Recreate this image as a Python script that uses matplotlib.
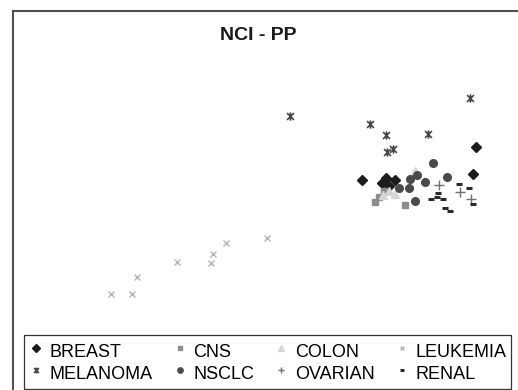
import matplotlib
matplotlib.use('Agg')
import matplotlib.pyplot as plt
from matplotlib.path import Path
from matplotlib.lines import Line2D

plt.rcParams['font.family'] = ['Liberation Sans', 'DejaVu Sans']

# scores (arbitrary units)
breast_x = [36.2, 47.6, 47.3, 38.2, 38.6, 39.5, 38.9]
breast_y = [21.0, 24.3, 21.6, 20.7, 21.2, 21.0, 20.4]
cns_x = [37.5, 37.9, 38.4, 40.5]
cns_y = [18.8, 19.3, 19.9, 18.5]
colon_x = [41.5, 38.3, 38.9, 39.5]
colon_y = [21.9, 19.5, 19.9, 19.6]
leukemia_x = [11.1, 13.2, 13.7, 17.7, 21.1, 21.3, 22.6, 26.7]
leukemia_y = [9.6, 9.6, 11.3, 12.8, 12.7, 13.6, 14.7, 15.2]
melanoma_x = [29.0, 47.0, 37.0, 38.6, 42.8, 38.7, 39.3]
melanoma_y = [27.4, 29.2, 26.6, 25.5, 25.6, 23.8, 24.1]
nsclc_x = [43.3, 44.7, 41.0, 41.7, 42.5, 39.9, 40.9, 41.5]
nsclc_y = [22.7, 21.3, 21.1, 21.5, 20.8, 20.2, 20.2, 18.9]
ovarian_x = [43.9, 46.0, 47.1]
ovarian_y = [20.5, 19.8, 19.1]
renal_x = [45.9, 46.9, 43.8, 43.1, 43.7, 44.3, 44.5, 45.0, 47.3]
renal_y = [20.6, 20.2, 19.7, 19.1, 19.3, 19.1, 18.2, 17.9, 18.6]

# x with a vertical bar through it
star = Path([(-1, -1), (1, 1), (-1, 1), (1, -1), (0, -1.2), (0, 1.2)],
            [Path.MOVETO, Path.LINETO] * 3)

groups = [
    ('BREAST', breast_x, breast_y, dict(marker='D', ms=5.5, color='#1c1c1c', ls='none')),
    ('CNS', cns_x, cns_y, dict(marker='s', ms=5, color='#8c8c8c', ls='none')),
    ('COLON', colon_x, colon_y, dict(marker='^', ms=6, color='#d6d6d6', ls='none')),
    ('LEUKEMIA', leukemia_x, leukemia_y, dict(marker='x', ms=5, mew=1, color='#b5b5b5', ls='none')),
    ('MELANOMA', melanoma_x, melanoma_y, dict(marker=star, ms=6, mew=1.2, color='#484848', ls='none')),
    ('NSCLC', nsclc_x, nsclc_y, dict(marker='o', ms=5.5, color='#4a4a4a', ls='none')),
    ('OVARIAN', ovarian_x, ovarian_y, dict(marker='+', ms=6.5, mew=1, color='#707070', ls='none')),
    ('RENAL', renal_x, renal_y, dict(marker='_', ms=5, mew=2.2, color='#2a2a2a', ls='none')),
]

fig = plt.figure(figsize=(5.18, 3.90), dpi=100)
ax = fig.add_axes([0, 0, 1, 1])
ax.set_xlim(0, 51.8)
ax.set_ylim(0, 39.0)
ax.axis('off')

handles = {}
for name, xs, ys, style in groups:
    handles[name], = ax.plot(xs, ys, **style)

# outer frame (only top and left edges are inside the picture)
x0 = 12.7 / 518
y0 = 1 - 10.7 / 390
fig.add_artist(Line2D([x0, x0], [0, y0], color='#505050', lw=1.5))
fig.add_artist(Line2D([x0, 1], [y0, y0], color='#505050', lw=1.5))

fig.text(258 / 518, 1 - 36 / 390, 'NCI - PP', ha='center', va='center',
         fontsize=14, fontweight='bold', color='#1a1a1a')

# legend filled column by column, so interleave the two rows
order = ['BREAST', 'MELANOMA', 'CNS', 'NSCLC', 'COLON', 'OVARIAN', 'LEUKEMIA', 'RENAL']
leg = ax.legend([handles[n] for n in order], order, ncol=4, mode='expand',
                loc='upper left', bbox_to_anchor=(24 / 518, 1 - 335 / 390, 487 / 518, 0),
                bbox_transform=fig.transFigure, fontsize=13, frameon=True,
                fancybox=False, edgecolor='black', borderpad=0.25, labelspacing=-0.05,
                handlelength=0.8, handleheight=1.58, handletextpad=0.35,
                columnspacing=1.0, markerscale=0.7, borderaxespad=0)
leg.get_frame().set_linewidth(0.9)

fig.savefig('out.png', dpi=100)
